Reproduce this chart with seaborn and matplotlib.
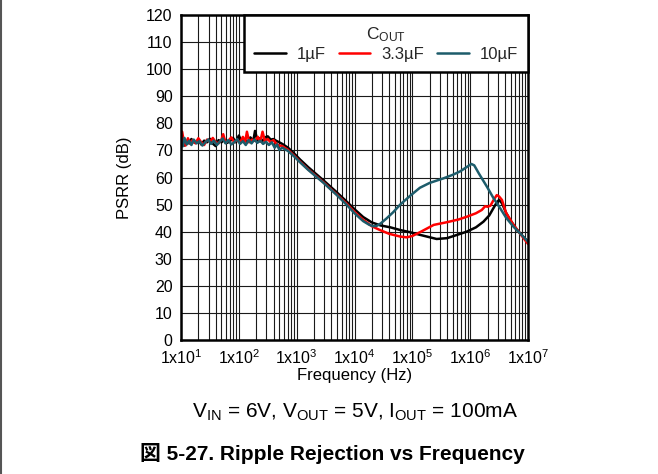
import numpy as np
import pandas as pd
import matplotlib
matplotlib.use("Agg")
import matplotlib.pyplot as plt
from matplotlib.lines import Line2D
from matplotlib.ticker import LogLocator, NullFormatter
import seaborn as sns

# ---------------- data ----------------
black_logf = [1.00, 1.03, 1.06, 1.10, 1.14, 1.18, 1.22, 1.26, 1.30, 1.35, 1.40, 1.45, 1.50, 1.55,
              1.60, 1.65, 1.70, 1.75, 1.80, 1.85, 1.90, 1.95, 2.00, 2.05, 2.10, 2.15, 2.20, 2.25,
              2.28, 2.32, 2.36, 2.40, 2.45, 2.50, 2.55, 2.60, 2.65, 2.70, 2.75, 2.85, 2.95, 3.06,
              3.20, 3.46, 3.69, 3.87, 4.00, 4.15, 4.30, 4.45, 4.62, 4.79, 4.96, 5.10, 5.25, 5.42,
              5.60, 5.80, 5.94, 6.10, 6.23, 6.33, 6.40, 6.46, 6.50, 6.55, 6.62, 6.69, 6.80, 6.90, 7.00]
black_db = [72.5, 74.5, 71.8, 73.5, 72.6, 74.2, 73.0, 72.8, 74.0, 72.2, 73.6, 73.0, 74.3, 72.5,
            71.6, 73.8, 73.0, 74.0, 72.8, 73.5, 74.6, 73.0, 75.5, 73.2, 74.0, 73.0, 74.8, 73.5,
            77.2, 73.8, 74.5, 73.2, 74.8, 75.2, 74.0, 74.2, 73.5, 73.0, 72.4, 71.0, 69.0, 66.6,
            63.8, 59.0, 54.6, 51.0, 48.3, 45.4, 43.4, 42.3, 41.6, 40.6, 39.8, 39.0, 38.2, 37.3,
            37.6, 39.0, 40.0, 41.6, 43.7, 46.0, 48.6, 50.8, 51.7, 50.5, 47.0, 44.3, 41.0, 38.5, 36.3]

red_logf = [1.00, 1.02, 1.05, 1.08, 1.12, 1.16, 1.20, 1.25, 1.30, 1.35, 1.40, 1.45, 1.50, 1.55,
            1.60, 1.65, 1.70, 1.73, 1.77, 1.82, 1.87, 1.92, 1.97, 2.02, 2.07, 2.11, 2.14, 2.18,
            2.23, 2.28, 2.33, 2.37, 2.41, 2.45, 2.50, 2.55, 2.60, 2.65, 2.70, 2.75, 2.85, 2.95,
            3.06, 3.20, 3.46, 3.69, 3.87, 4.00, 4.15, 4.30, 4.44, 4.60, 4.79, 4.90, 5.00, 5.15,
            5.37, 5.60, 5.80, 5.94, 6.10, 6.20, 6.26, 6.30, 6.35, 6.40, 6.46, 6.50, 6.55, 6.62,
            6.75, 6.88, 7.00]
red_db = [72.0, 76.9, 73.0, 71.8, 74.5, 72.5, 73.8, 72.6, 74.5, 73.0, 72.0, 74.0, 73.2, 74.6,
          73.0, 72.6, 74.0, 76.0, 72.8, 73.6, 74.8, 73.0, 74.0, 72.8, 75.0, 73.2, 76.9, 73.0,
          74.0, 73.5, 75.0, 73.2, 76.9, 73.5, 74.2, 73.0, 73.8, 72.4, 71.8, 71.6, 70.2, 68.2,
          65.8, 63.0, 58.3, 53.8, 50.2, 47.3, 44.4, 42.0, 40.6, 39.2, 38.2, 37.9, 38.4, 40.0,
          42.5, 43.5, 44.5, 45.5, 46.8, 48.0, 49.4, 49.2, 49.6, 51.5, 53.5, 53.0, 51.7, 47.0,
          42.5, 38.8, 35.5]

teal_logf = [1.00, 1.03, 1.06, 1.10, 1.14, 1.18, 1.22, 1.27, 1.32, 1.37, 1.42, 1.47, 1.52, 1.57,
             1.62, 1.67, 1.72, 1.77, 1.82, 1.87, 1.92, 1.97, 2.02, 2.07, 2.12, 2.17, 2.22, 2.27,
             2.32, 2.37, 2.42, 2.47, 2.52, 2.57, 2.62, 2.66, 2.70, 2.75, 2.85, 2.95, 3.06, 3.20,
             3.46, 3.69, 3.87, 4.00, 4.15, 4.25, 4.32, 4.38, 4.45, 4.55, 4.67, 4.79, 4.96, 5.13,
             5.30, 5.54, 5.70, 5.83, 5.95, 6.02, 6.07, 6.15, 6.29, 6.40, 6.52, 6.62, 6.75, 6.88, 7.00]
teal_db = [73.0, 71.5, 74.6, 72.2, 73.5, 72.0, 74.0, 72.6, 73.4, 71.8, 73.0, 74.0, 72.4, 73.6,
           72.0, 73.2, 74.4, 72.6, 73.8, 72.2, 73.0, 74.2, 72.4, 73.4, 72.0, 73.8, 72.6, 74.0,
           72.8, 73.6, 72.4, 73.2, 72.0, 73.0, 71.0, 72.2, 70.2, 71.0, 69.8, 67.9, 65.6, 62.8,
           58.1, 53.6, 49.8, 46.8, 43.9, 42.6, 42.0, 42.1, 43.0, 44.8, 47.2, 50.0, 53.2, 56.2,
           58.0, 59.7, 61.0, 62.3, 64.0, 65.0, 64.5, 61.5, 56.6, 52.5, 48.6, 45.2, 41.8, 39.0, 36.3]

series_names = ["1µF", "3.3µF", "10µF"]
series_colors = ["#000000", "#ff0000", "#1d5c6b"]

xtick_exps = [1, 2, 3, 4, 5, 6, 7]
xtick_labels = ["1x10$^{1}$", "1x10$^{2}$", "1x10$^{3}$", "1x10$^{4}$",
                "1x10$^{5}$", "1x10$^{6}$", "1x10$^{7}$"]
ytick_values = list(range(0, 121, 10))

# ---------------- build table ----------------
frames = []
for name, lf, db in zip(series_names,
                        [black_logf, red_logf, teal_logf],
                        [black_db, red_db, teal_db]):
    frames.append(pd.DataFrame({"freq": np.power(10.0, np.array(lf)),
                                "psrr": db, "series": name}))
df = pd.concat(frames, ignore_index=True)

# ---------------- style ----------------
sns.set_theme(style="white")
plt.rcParams["font.family"] = ["Liberation Sans", "Noto Sans CJK JP", "DejaVu Sans"]
plt.rcParams["mathtext.fontset"] = "custom"
plt.rcParams["mathtext.rm"] = "Liberation Sans"
plt.rcParams["mathtext.it"] = "Liberation Sans:italic"
plt.rcParams["mathtext.bf"] = "Liberation Sans:bold"

fig = plt.figure(figsize=(6.58, 4.74), dpi=100)
ax = fig.add_axes([181 / 658, 1 - 340 / 474, (528 - 181) / 658, (340 - 15) / 474])

sns.lineplot(data=df, x="freq", y="psrr", hue="series", hue_order=series_names,
             palette=dict(zip(series_names, series_colors)), estimator=None,
             sort=False, linewidth=1.8, ax=ax)

ax.set_xscale("log")
ax.set_xlim(10, 1e7)
ax.set_ylim(0, 120)
ax.set_xticks([10.0 ** e for e in xtick_exps], xtick_labels)
ax.xaxis.set_minor_locator(LogLocator(base=10, subs=np.arange(2, 10), numticks=100))
ax.xaxis.set_minor_formatter(NullFormatter())
ax.set_yticks(ytick_values)
ax.set_yticklabels([str(v) for v in ytick_values])

ax.grid(True, which="major", axis="both", color="#1a1a1a", linewidth=0.8)
ax.grid(True, which="minor", axis="x", color="#1a1a1a", linewidth=0.8)
ax.set_axisbelow(True)
for sp in ax.spines.values():
    sp.set_color("black")
    sp.set_linewidth(1.8)
ax.tick_params(axis="both", which="both", length=0, labelsize=11.5, colors="black")
ax.tick_params(axis="x", pad=6)
ax.tick_params(axis="y", pad=6)

ax.set_xlabel("Frequency (Hz)", fontsize=12, color="black", labelpad=1)
ax.set_ylabel("PSRR (dB)", fontsize=12, color="black", labelpad=10)

leg = ax.legend(title="C$_{\\mathrm{OUT}}$", ncol=3, loc="upper right",
                frameon=True, fancybox=False, edgecolor="black", facecolor="white",
                framealpha=1, borderaxespad=0, fontsize=12, title_fontsize=12.5,
                handlelength=1.9, columnspacing=0.8, handletextpad=0.65,
                borderpad=0.6, labelspacing=0.2)
leg.get_frame().set_linewidth(1.8)
for h in leg.get_lines():
    h.set_linewidth(1.8)

fig.text(355 / 658, 1 - 412 / 474, "V$_{\\mathrm{IN}}$ = 6V, V$_{\\mathrm{OUT}}$ = 5V, I$_{\\mathrm{OUT}}$ = 100mA",
         ha="center", va="center", fontsize=15, color="black")
fig.text(332 / 658, 1 - 453 / 474, "図 5-27. Ripple Rejection vs Frequency",
         ha="center", va="center", fontsize=15, fontweight="bold", color="black")

fig.add_artist(Line2D([0.0008, 0.0008], [0, 1], transform=fig.transFigure,
                      color="#555555", linewidth=1.5))

fig.savefig("out.png", dpi=100)
